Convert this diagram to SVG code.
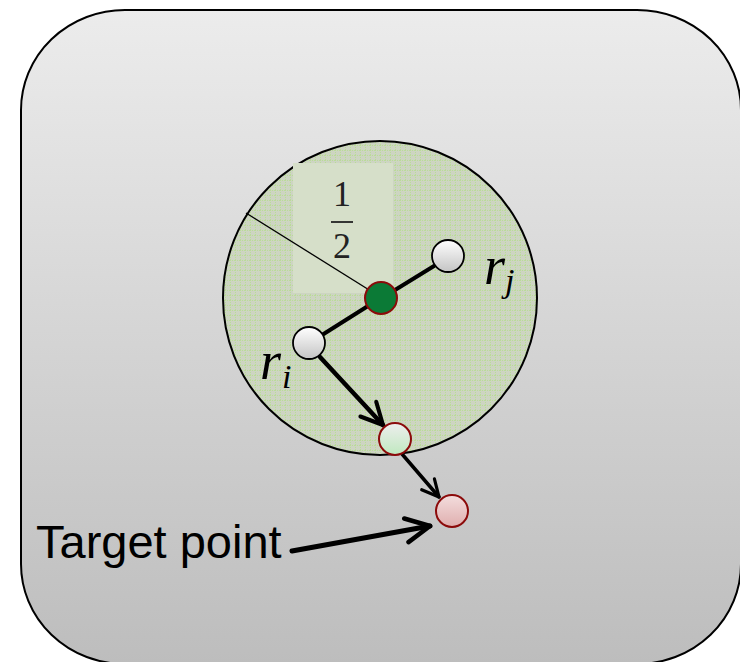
<svg xmlns="http://www.w3.org/2000/svg" width="740" height="662" viewBox="0 0 740 662">
  <defs>
    <linearGradient id="panelFill" x1="0" y1="0" x2="0" y2="1">
      <stop offset="0" stop-color="#ececec"/>
      <stop offset="1" stop-color="#bdbdbd"/>
    </linearGradient>
    <pattern id="hatch" width="5" height="5" patternUnits="userSpaceOnUse">
      <rect width="5" height="5" fill="#cdd5c2"/>
      <path d="M0 0.5H5M0.5 0V5" stroke="#badc98" stroke-width="1" stroke-dasharray="1 1"/>
    </pattern>
    <linearGradient id="greyNode" x1="0" y1="0" x2="0" y2="1">
      <stop offset="0" stop-color="#ffffff"/>
      <stop offset="1" stop-color="#c4c4c4"/>
    </linearGradient>
    <linearGradient id="mintNode" x1="0" y1="0" x2="0" y2="1">
      <stop offset="0" stop-color="#eeeeee"/>
      <stop offset="1" stop-color="#bfe8bf"/>
    </linearGradient>
    <linearGradient id="pinkNode" x1="0" y1="0" x2="0" y2="1">
      <stop offset="0" stop-color="#f3dede"/>
      <stop offset="1" stop-color="#dfaeae"/>
    </linearGradient>
    <marker id="chevron" viewBox="0 0 10 10" refX="9" refY="5" markerWidth="6" markerHeight="6" orient="auto" markerUnits="strokeWidth">
      <path d="M1 1L9 5L1 9" fill="none" stroke="#000" stroke-width="1.5" stroke-linecap="round" stroke-linejoin="round"/>
    </marker>
    <style>
      .edge { stroke: #000; fill: none; stroke-linecap: round; }
      .math { font-family: "Liberation Serif", "DejaVu Serif", serif; font-style: italic; fill: #000; }
      .num { font-family: "Liberation Serif", "DejaVu Serif", serif; fill: #222; }
      .label { font-family: "Liberation Sans", Arial, sans-serif; fill: #000; }
      .grey { fill: url(#greyNode); stroke: #000; stroke-width: 1.8; }
      .red { stroke: #8b0a0a; stroke-width: 2; }
    </style>
  </defs>

  <!-- outer panel -->
  <rect x="21" y="10" width="720" height="654" rx="104" ry="100" fill="url(#panelFill)" stroke="#000" stroke-width="2"/>

  <!-- tolerance disc with radius annotation -->
  <g id="disc">
    <circle cx="380" cy="298" r="157" fill="url(#hatch)" stroke="#000" stroke-width="2"/>
    <rect x="293" y="163" width="100" height="130" fill="#d6dfc9"/>
    <line x1="246" y1="213" x2="382" y2="298" stroke="#000" stroke-width="1.3"/>
    <text class="num" x="342" y="206" font-size="36" text-anchor="middle">1</text>
    <line x1="331" y1="222" x2="353" y2="222" stroke="#222" stroke-width="1.8"/>
    <text class="num" x="342" y="258" font-size="36" text-anchor="middle">2</text>
  </g>

  <!-- connectors -->
  <g id="connectors">
    <line class="edge" x1="322" y1="335" x2="368" y2="306" stroke-width="4"/>
    <line class="edge" x1="395" y1="290" x2="434" y2="266" stroke-width="4"/>
    <line class="edge" x1="320" y1="357" x2="383" y2="425" stroke-width="4.5" marker-end="url(#chevron)"/>
    <line class="edge" x1="402" y1="454" x2="439" y2="497" stroke-width="3.5" marker-end="url(#chevron)"/>
    <line class="edge" x1="292" y1="551" x2="430" y2="526" stroke-width="5" marker-end="url(#chevron)"/>
  </g>

  <g id="center">
    <circle cx="381" cy="298" r="16" fill="#0b7a36" class="red"/>
  </g>
  <g id="node-rj">
    <circle cx="448" cy="256" r="16" class="grey"/>
    <text class="math" x="484" y="284" font-size="54">r</text>
    <text class="math" x="505" y="292" font-size="34">j</text>
  </g>
  <g id="node-ri">
    <circle cx="309" cy="343" r="16" class="grey"/>
    <text class="math" x="260" y="379" font-size="54">r</text>
    <text class="math" x="282" y="388" font-size="34">i</text>
  </g>
  <g id="boundary-point">
    <circle cx="395" cy="439" r="16" fill="url(#mintNode)" class="red"/>
  </g>
  <g id="target">
    <circle cx="452" cy="511" r="16" fill="url(#pinkNode)" class="red"/>
    <text class="label" x="36" y="558" font-size="47">Target point</text>
  </g>
</svg>
